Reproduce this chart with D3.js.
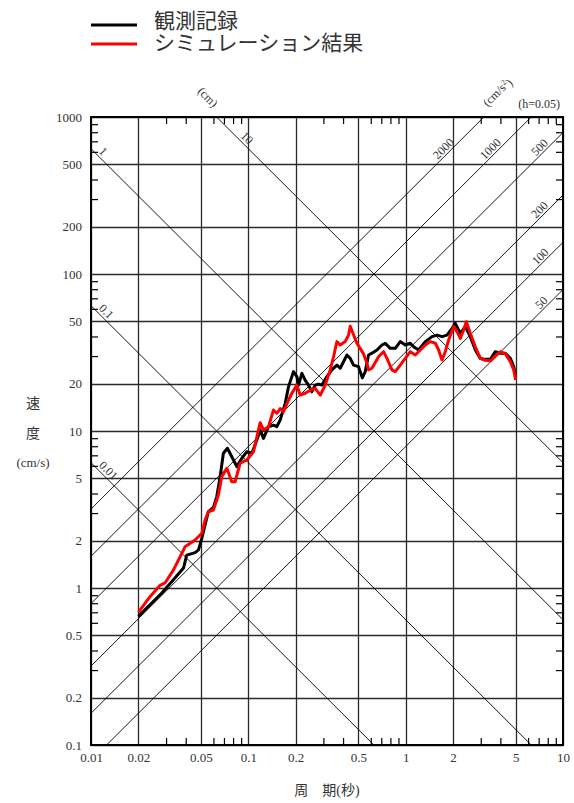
<!DOCTYPE html>
<html><head><meta charset="utf-8">
<script src="https://cdn.jsdelivr.net/npm/d3@7"></script>
<style>
html,body{margin:0;padding:0;background:#fff;}
svg{display:block;}
.num{font-family:"Liberation Serif","DejaVu Serif",serif;font-size:13px;fill:#333;}
.jp{font-family:"Noto Sans CJK JP","Noto Sans",sans-serif;fill:#333;}
</style>
</head><body>
<svg id="c" width="574" height="803"></svg>
<script>
// ---- data ----
const majorT = [0.01,0.02,0.05,0.1,0.2,0.5,1,2,5,10];
const minorT = [0.03,0.04,0.06,0.07,0.08,0.09,0.3,0.4,0.6,0.7,0.8,0.9,3,4,6,7,8,9];
const majorV = [0.1,0.2,0.5,1,2,5,10,20,50,100,200,500,1000];
const minorV = [0.3,0.4,0.6,0.7,0.8,0.9,3,4,6,7,8,9,30,40,60,70,80,90,300,400,600,700,800,900];
const dispLines = [0.01,0.1,1,10];           // cm
const dispLabelT = [0.0108,0.0108,0.0108,0.086];
const accLines = [2000,1000,500,200,100,50]; // cm/s^2
const accLabelT = [1.636,3.256,6.88,6.88,6.95,7.29];
const seriesNames = ["観測記録","シミュレーション結果"];
const seriesColors = ["#000000","#ff0000"];

const obsT = [0.020,0.0237,0.0282,0.0334,0.0387,0.0406,0.0459,0.0482,0.0506,0.0531,0.0557,0.060,0.063,0.0662,0.0694,0.0736,0.0785,0.0845,0.0909,0.0978,0.1053,0.1133,0.1189,0.1248,0.1343,0.1445,0.1518,0.1594,0.1715,0.180,0.1936,0.2035,0.2084,0.2190,0.2297,0.2411,0.2535,0.266,0.2793,0.2935,0.3157,0.3397,0.3656,0.3837,0.4027,0.4233,0.4442,0.4663,0.5016,0.530,0.5534,0.5808,0.6104,0.657,0.7067,0.7418,0.798,0.859,0.924,0.994,1.070,1.123,1.208,1.333,1.470,1.582,1.702,1.832,1.970,2.068,2.225,2.395,2.575,2.772,2.983,3.209,3.453,3.715,3.998,4.302,4.628,4.857,5.0];
const obsSv = [0.66,0.78,0.93,1.13,1.34,1.62,1.68,1.75,2.07,2.52,3.06,3.26,3.82,5.12,7.21,7.76,6.86,5.93,6.70,7.38,7.21,8.77,10.15,8.98,10.65,10.9,10.65,11.75,15.0,19.1,23.9,22.2,19.6,23.3,21.1,19.6,17.8,19.6,19.9,19.6,22.2,24.5,26.3,25.1,27.6,30.5,29.0,26.3,25.7,21.8,23.9,30.5,31.3,32.8,35.3,36.2,33.6,33.6,37.1,35.3,36.2,34.4,32.8,37.1,39.9,40.8,39.9,40.8,45.1,48.5,41.9,46.2,39.9,32.8,29.0,28.6,28.6,32.0,31.3,31.3,29.0,25.7,22.7];

const simT = [0.020,0.0237,0.0275,0.0296,0.0334,0.0396,0.0459,0.0506,0.0531,0.0557,0.060,0.0645,0.0678,0.073,0.0785,0.0824,0.0887,0.0978,0.1078,0.1189,0.1248,0.1343,0.1445,0.1518,0.1594,0.1673,0.180,0.1891,0.2035,0.2136,0.2297,0.2472,0.266,0.2862,0.3081,0.3315,0.3479,0.3656,0.3837,0.4128,0.4335,0.4442,0.4663,0.4898,0.514,0.5395,0.5672,0.5808,0.6104,0.6723,0.7236,0.7604,0.818,0.859,0.924,0.994,1.070,1.151,1.239,1.333,1.435,1.543,1.62,1.702,1.786,1.875,2.018,2.12,2.225,2.335,2.43,2.575,2.772,2.983,3.209,3.453,3.715,3.998,4.302,4.628,4.857,5.0];
const simSv = [0.70,0.88,1.04,1.08,1.30,1.83,2.02,2.23,2.71,3.06,3.14,3.91,5.12,5.79,4.75,4.75,6.23,6.54,7.38,11.3,10.15,10.65,13.6,12.97,13.9,13.27,15.7,17.4,19.6,16.9,17.4,18.2,18.7,16.9,19.6,24.5,29.7,37.1,35.3,37.1,40.8,46.5,41.0,36.2,33.6,31.0,27.0,24.5,25.1,29.7,32.0,29.0,24.5,23.9,26.3,29.0,32.0,30.5,32.8,35.3,37.1,36.2,32.8,28.3,32.0,38.0,46.2,42.9,38.9,44.0,49.7,41.9,34.4,29.0,28.2,28.0,30.0,32.0,31.0,27.6,24.5,21.1];

// ---- layout ----
const L=91, R=563, T0=117, B=745;
const x = d3.scaleLog().domain([0.01,10]).range([L,R]);
const y = d3.scaleLog().domain([0.1,1000]).range([B,T0]);
const svg = d3.select("#c");

svg.append("defs").append("clipPath").attr("id","plot")
  .append("rect").attr("x",L).attr("y",T0).attr("width",R-L).attr("height",B-T0);

const grid = svg.append("g");
grid.selectAll(".vg").data(majorT).join("line")
  .attr("x1",d=>Math.round(x(d))+0.5).attr("x2",d=>Math.round(x(d))+0.5)
  .attr("y1",T0).attr("y2",B).attr("stroke","#2a2a2a").attr("stroke-width",1.3);
grid.selectAll(".hg").data(majorV).join("line")
  .attr("y1",d=>Math.round(y(d))+0.5).attr("y2",d=>Math.round(y(d))+0.5)
  .attr("x1",L).attr("x2",R).attr("stroke","#2a2a2a").attr("stroke-width",1.3);

// diagonal lines
const diag = svg.append("g").attr("clip-path","url(#plot)");
const twoPi = 2*Math.PI;
const ends = [0.005,20];
diag.selectAll(".dl").data(dispLines).join("line")
  .attr("x1",x(ends[0])).attr("y1",d=>y(twoPi*d/ends[0]))
  .attr("x2",x(ends[1])).attr("y2",d=>y(twoPi*d/ends[1]))
  .attr("stroke","#000").attr("stroke-width",0.9);
diag.selectAll(".al").data(accLines).join("line")
  .attr("x1",x(ends[0])).attr("y1",d=>y(d*ends[0]/twoPi))
  .attr("x2",x(ends[1])).attr("y2",d=>y(d*ends[1]/twoPi))
  .attr("stroke","#000").attr("stroke-width",0.9);

// diagonal labels
svg.selectAll(".dlab").data(dispLines).join("text").attr("class","num")
  .style("font-size","12px")
  .attr("transform",(d,i)=>{const t=dispLabelT[i];return `translate(${x(t)+2},${y(twoPi*d/t)-2}) rotate(45)`;})
  .text(d=>String(d));
svg.selectAll(".alab").data(accLines).join("text").attr("class","num")
  .style("font-size","12px")
  .attr("transform",(d,i)=>{const t=accLabelT[i];return `translate(${x(t)-1.5},${y(d*t/twoPi)-1.5}) rotate(-45)`;})
  .text(d=>String(d));

// axes: minor ticks inward
const tk=7;
svg.append("g").attr("transform",`translate(0,${B})`)
  .call(d3.axisBottom(x).tickValues(minorT).tickSize(-tk).tickFormat(""))
  .call(g=>g.select(".domain").remove()).selectAll("line").attr("stroke","#000").attr("stroke-width",1.2);
svg.append("g").attr("transform",`translate(0,${T0})`)
  .call(d3.axisTop(x).tickValues(minorT).tickSize(-tk).tickFormat(""))
  .call(g=>g.select(".domain").remove()).selectAll("line").attr("stroke","#000").attr("stroke-width",1.2);
svg.append("g").attr("transform",`translate(${L},0)`)
  .call(d3.axisLeft(y).tickValues(minorV).tickSize(-tk).tickFormat(""))
  .call(g=>g.select(".domain").remove()).selectAll("line").attr("stroke","#000").attr("stroke-width",1.2);
svg.append("g").attr("transform",`translate(${R},0)`)
  .call(d3.axisRight(y).tickValues(minorV).tickSize(-tk).tickFormat(""))
  .call(g=>g.select(".domain").remove()).selectAll("line").attr("stroke","#000").attr("stroke-width",1.2);

// tick labels via axes
const xa = svg.append("g").attr("transform",`translate(0,${B})`)
  .call(d3.axisBottom(x).tickValues(majorT).tickSize(0).tickPadding(8).tickFormat(d=>String(d)));
xa.select(".domain").remove();
xa.selectAll("text").attr("class","num").attr("font-family",null).attr("font-size",null).attr("fill",null);
const ya = svg.append("g").attr("transform",`translate(${L},0)`)
  .call(d3.axisLeft(y).tickValues(majorV).tickSize(0).tickPadding(9).tickFormat(d=>String(d)));
ya.select(".domain").remove();
ya.selectAll("text").attr("class","num").attr("font-family",null).attr("font-size",null).attr("fill",null);

// frame
svg.append("rect").attr("x",L).attr("y",T0).attr("width",R-L).attr("height",B-T0)
  .attr("fill","none").attr("stroke","#000").attr("stroke-width",2);

// curves
const line = d3.line().x(d=>x(d[0])).y(d=>y(d[1])).curve(d3.curveLinear);
const series = [d3.zip(obsT,obsSv), d3.zip(simT,simSv)];
svg.append("g").selectAll("path").data(series).join("path")
  .attr("d",line).attr("fill","none")
  .attr("stroke",(d,i)=>seriesColors[i]).attr("stroke-width",3)
  .attr("stroke-linejoin","round");

// unit labels
svg.append("text").attr("class","num").style("font-size","12px")
  .attr("transform","translate(208,97) rotate(45)").attr("text-anchor","middle").attr("dy","0.35em").text("(cm)");
const acc = svg.append("text").attr("class","num").style("font-size","12px")
  .attr("transform","translate(497,92) rotate(-45)").attr("text-anchor","middle").attr("dy","0.35em");
acc.append("tspan").text("(cm/s");
acc.append("tspan").attr("dy","-0.45em").style("font-size","8px").text("2");
acc.append("tspan").attr("dy","0.45em").text(")");
svg.append("text").attr("class","num").style("font-size","12px")
  .attr("x",560).attr("y",108).attr("text-anchor","end").text("(h=0.05)");

// axis titles
svg.append("text").attr("class","jp").style("font-size","14px").attr("x",33).attr("y",408).attr("text-anchor","middle").text("速");
svg.append("text").attr("class","jp").style("font-size","14px").attr("x",33).attr("y",438).attr("text-anchor","middle").text("度");
svg.append("text").attr("class","num").attr("x",33).attr("y",467).attr("text-anchor","middle").text("(cm/s)");
const xt = svg.append("text").attr("x",327).attr("y",795).attr("text-anchor","middle");
xt.append("tspan").attr("class","jp").style("font-size","14px").text("周　期");
xt.append("tspan").attr("class","num").style("font-size","14px").text("(");
xt.append("tspan").attr("class","jp").style("font-size","14px").text("秒");
xt.append("tspan").attr("class","num").style("font-size","14px").text(")");

// legend
const lg = svg.append("g");
const legY = [25,44];
const legTextY = [28,49.5];
seriesNames.forEach((n,i)=>{
  lg.append("line").attr("x1",91).attr("x2",137).attr("y1",legY[i]).attr("y2",legY[i])
    .attr("stroke",seriesColors[i]).attr("stroke-width",3);
  lg.append("text").attr("class","jp").style("font-size","21px")
    .attr("x",154).attr("y",legTextY[i]).text(n);
});
</script>
</body></html>
